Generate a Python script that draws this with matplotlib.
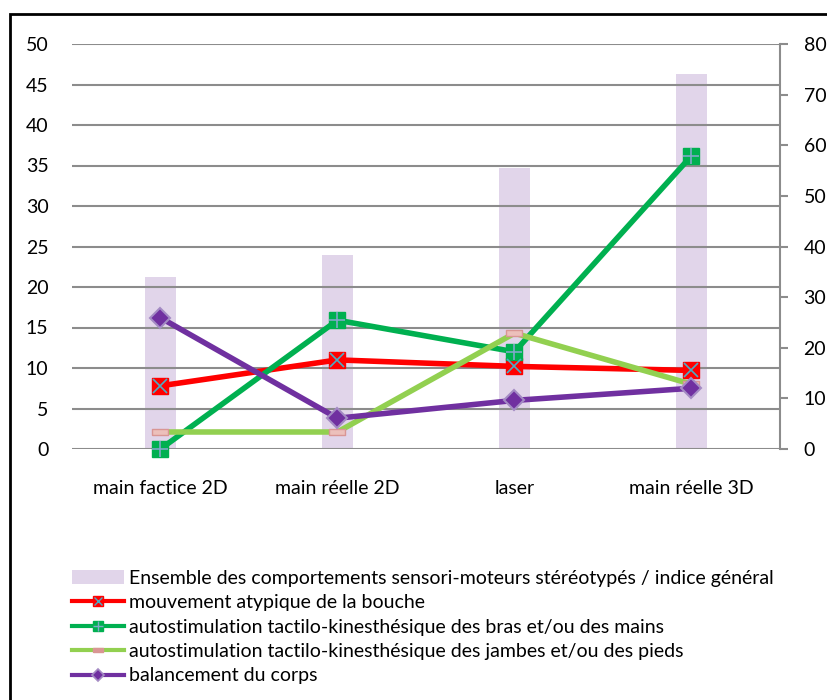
import numpy as np
import matplotlib
matplotlib.use("Agg")
import matplotlib.pyplot as plt
from matplotlib.patches import Rectangle, Patch
from matplotlib.lines import Line2D

plt.rcParams['font.family'] = ['Lato', 'DejaVu Sans']

categories = ["main factice 2D", "main réelle 2D", "laser", "main réelle 3D"]

# bars, read on the right axis (0-80)
ensemble = [34.0, 38.3, 55.6, 74.1]
# lines, read on the left axis (0-50)
bouche = [7.8, 11.0, 10.2, 9.7]
bras_mains = [0.0, 15.9, 12.0, 36.2]
jambes_pieds = [2.1, 2.1, 14.3, 8.0]
balancement = [16.2, 3.8, 6.0, 7.5]

labels = [
    "Ensemble des comportements sensori-moteurs stéréotypés / indice général",
    "mouvement atypique de la bouche",
    "autostimulation tactilo-kinesthésique des bras et/ou des mains",
    "autostimulation tactilo-kinesthésique des jambes et/ou des pieds",
    "balancement du corps",
]

FS = 14
x = np.arange(len(categories))

fig = plt.figure(figsize=(8.28, 7), dpi=100)
ax = fig.add_axes([72/828, 1-449/700, (780-72)/828, (449-44)/700])
ax2 = ax.twinx()
ax.set_zorder(ax2.get_zorder() + 1)
ax.patch.set_visible(False)

# frame around the whole chart (cut at right and bottom like the original)
fig.patches.append(Rectangle((10/828, -0.1), 1.2, 1 - 14/700 + 0.1, transform=fig.transFigure,
                             fill=False, edgecolor='black', linewidth=2))

bar_col = '#e1d5ea'
bars = ax2.bar(x, ensemble, width=0.18, color=bar_col, zorder=1)

grey = '#8c8c8c'
red, green, lgreen, purple = '#ff0000', '#00b050', '#92d050', '#7030a0'
dash = [(-1, -0.4), (1, -0.4), (1, 0.4), (-1, 0.4), (-1, -0.4)]

ax.plot(x, bouche, color=red, lw=4, marker='s', ms=12, mfc=red, mec=red, zorder=3, clip_on=False)
ax.plot(x, bouche, ls='none', marker='x', ms=10, mec='#4bacc6', mew=1.2, zorder=4, clip_on=False)
ax.plot(x, bras_mains, color=green, lw=4, marker='s', ms=12, mfc=green, mec=green, zorder=3, clip_on=False)
ax.plot(x, bras_mains, ls='none', marker='+', ms=12, mec='#7fa8c8', mew=1.2, zorder=4, clip_on=False)
ax.plot(x, jambes_pieds, color=lgreen, lw=4, marker=dash, ms=12, mfc='#ecc0bb', mec='#d99694', mew=1, zorder=3, clip_on=False)
ax.plot(x, balancement, color=purple, lw=4, marker='D', ms=10, mfc=purple, mec='#a48bc4', mew=1.5, zorder=3, clip_on=False)

ax.set_xlim(-0.5, 3.5)
ax.set_ylim(0, 50)
ax.set_yticks(np.arange(0, 51, 5))
ax2.set_ylim(0, 80)
ax2.set_yticks(np.arange(0, 81, 10))

ax.yaxis.grid(True, color=grey, lw=1.5)
ax.set_axisbelow(False)
for s in ax.spines.values():
    s.set_visible(False)
for k, s in ax2.spines.items():
    s.set_visible(k == 'right')
ax2.spines['right'].set_color(grey)
ax2.spines['right'].set_linewidth(1.5)

ax.set_xticks(x)
ax.set_xticklabels(categories, fontsize=FS)
ax.tick_params(axis='x', length=0, pad=22)
ax.tick_params(axis='y', length=0, pad=17, labelsize=FS)
ax2.tick_params(axis='y', length=6, width=1.5, color=grey, pad=11, labelsize=FS)

# legend handles: smaller markers as in the original
handles = [
    Patch(facecolor=bar_col, edgecolor='none'),
    (Line2D([], [], color=red, lw=3, marker='s', ms=7, mfc=red, mec=red),
     Line2D([], [], ls='none', marker='x', ms=6, mec='#4bacc6', mew=1)),
    (Line2D([], [], color=green, lw=3, marker='s', ms=7, mfc=green, mec=green),
     Line2D([], [], ls='none', marker='+', ms=7, mec='#7fa8c8', mew=1)),
    Line2D([], [], color=lgreen, lw=3, marker=dash, ms=7, mfc='#d99694', mec='#d99694'),
    Line2D([], [], color=purple, lw=3, marker='D', ms=6, mfc=purple, mec='#a48bc4', mew=1.2),
]

fig.legend(handles, labels, loc='upper left',
           bbox_to_anchor=(64/828, 1-562/700), frameon=False, fontsize=FS,
           handlelength=2.7, handletextpad=0.25, labelspacing=0.38, borderaxespad=0)

fig.savefig("out.png", dpi=100)
